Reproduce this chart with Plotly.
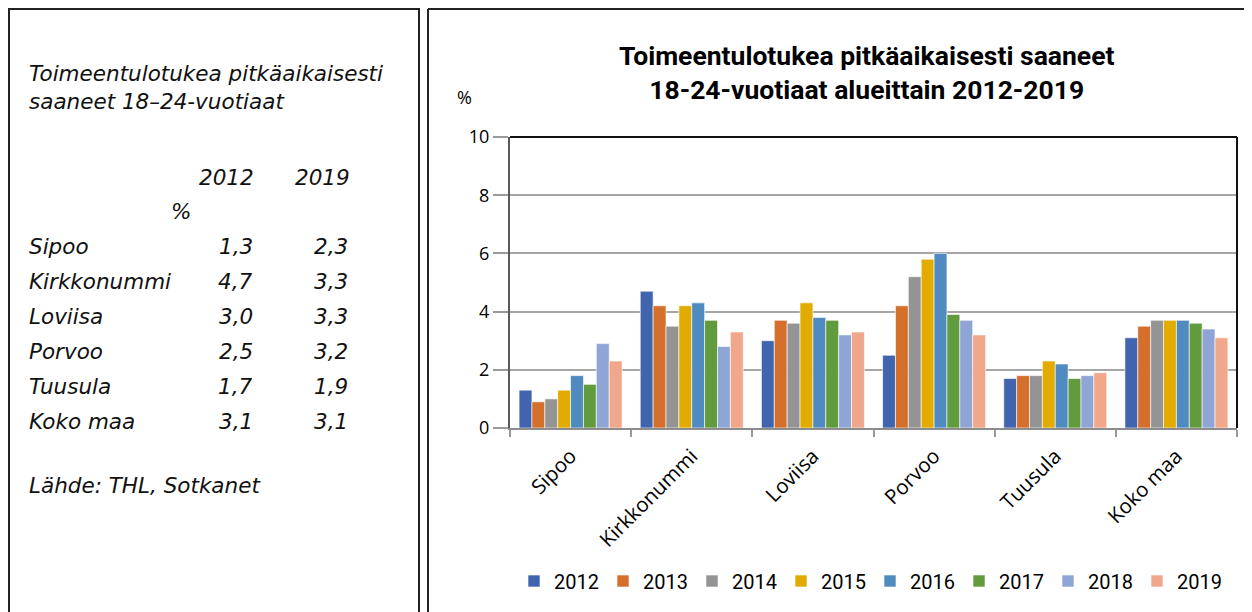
import plotly.graph_objects as go

# ---- data ----
categories = ["Sipoo", "Kirkkonummi", "Loviisa", "Porvoo", "Tuusula", "Koko maa"]
years = ["2012", "2013", "2014", "2015", "2016", "2017", "2018", "2019"]
v2012 = [1.3, 4.7, 3.0, 2.5, 1.7, 3.1]
v2013 = [0.9, 4.2, 3.7, 4.2, 1.8, 3.5]
v2014 = [1.0, 3.5, 3.6, 5.2, 1.8, 3.7]
v2015 = [1.3, 4.2, 4.3, 5.8, 2.3, 3.7]
v2016 = [1.8, 4.3, 3.8, 6.0, 2.2, 3.7]
v2017 = [1.5, 3.7, 3.7, 3.9, 1.7, 3.6]
v2018 = [2.9, 2.8, 3.2, 3.7, 1.8, 3.4]
v2019 = [2.3, 3.3, 3.3, 3.2, 1.9, 3.1]
series = [v2012, v2013, v2014, v2015, v2016, v2017, v2018, v2019]
colors = ["#4065AE", "#D46F2C", "#949494", "#E2AB00", "#4F8BC0", "#629A3E", "#8FA5D5", "#F0A78A"]
y_ticks = [0, 2, 4, 6, 8, 10]

table_title = "Toimeentulotukea pitkäaikaisesti<br>saaneet 18–24-vuotiaat"
table_rows = ["Sipoo", "Kirkkonummi", "Loviisa", "Porvoo", "Tuusula", "Koko maa"]
table_2012 = ["1,3", "4,7", "3,0", "2,5", "1,7", "3,1"]
table_2019 = ["2,3", "3,3", "3,3", "3,2", "1,9", "3,1"]
source = "Lähde: THL, Sotkanet"

FONT = "Open Sans, sans-serif"
FONT_T = "DejaVu Sans, sans-serif"
FONT_C = "Roboto, sans-serif"
OFF = 8  # page body margin
W, H = 1252 - OFF, 612 - OFF
L, R, T, B = 510, 1237, 137, 428   # plot area in page pixels

def px(x):
    return (x - L) / (R - L)

def py(y):
    return (B - y) / (B - T)

fig = go.Figure()
for name, vals, col in zip(years, series, colors):
    fig.add_trace(go.Bar(x=categories, y=vals, name=name,
                         marker=dict(color=col, line=dict(color="rgba(255,255,255,0.6)", width=1))))

TXT = dict(family=FONT_T, size=21.5, color="#111")
ann = []
ann.append(dict(x=px(27), y=py(88), xref="paper", yref="paper", xanchor="left", yanchor="middle",
                text="<i>" + table_title + "</i>", showarrow=False, align="left", font=TXT))
ann.append(dict(x=px(256), y=py(177), xref="paper", yref="paper", xanchor="right", yanchor="middle",
                text="<i>2012</i>", showarrow=False, font=TXT))
ann.append(dict(x=px(352), y=py(177), xref="paper", yref="paper", xanchor="right", yanchor="middle",
                text="<i>2019</i>", showarrow=False, font=TXT))
ann.append(dict(x=px(193), y=py(211), xref="paper", yref="paper", xanchor="right", yanchor="middle",
                text="<i>%</i>", showarrow=False, font=TXT))
for i, (nm, a, b) in enumerate(zip(table_rows, table_2012, table_2019)):
    yy = 246 + i * 35
    ann.append(dict(x=px(27), y=py(yy), xref="paper", yref="paper", xanchor="left", yanchor="middle",
                    text="<i>" + nm + "</i>", showarrow=False, font=TXT))
    ann.append(dict(x=px(255), y=py(yy), xref="paper", yref="paper", xanchor="right", yanchor="middle",
                    text="<i>" + a + "</i>", showarrow=False, font=TXT))
    ann.append(dict(x=px(350), y=py(yy), xref="paper", yref="paper", xanchor="right", yanchor="middle",
                    text="<i>" + b + "</i>", showarrow=False, font=TXT))
ann.append(dict(x=px(27), y=py(485), xref="paper", yref="paper", xanchor="left", yanchor="middle",
                text="<i>" + source + "</i>", showarrow=False, font=TXT))
# chart title and unit
ann.append(dict(x=px(866), y=py(73), xref="paper", yref="paper", xanchor="center", yanchor="middle",
                text="<b>Toimeentulotukea pitkäaikaisesti saaneet<br>18-24-vuotiaat alueittain 2012-2019</b>",
                showarrow=False, font=dict(family=FONT_C, size=26.5, color="#000")))
ann.append(dict(x=px(464), y=py(97), xref="paper", yref="paper", xanchor="center", yanchor="middle",
                text="%", showarrow=False, font=dict(family=FONT, size=18, color="#000")))

shapes = [
    dict(type="rect", xref="paper", yref="paper", x0=px(9), x1=px(419), y0=py(9), y1=py(640),
         line=dict(color="#222", width=2), layer="below"),
    dict(type="line", xref="paper", yref="paper", x0=px(428), x1=px(428), y0=py(9), y1=py(640),
         line=dict(color="#222", width=2), layer="below"),
    dict(type="line", xref="paper", yref="paper", x0=px(428), x1=px(1250), y0=py(9), y1=py(9),
         line=dict(color="#222", width=2), layer="below"),
    dict(type="line", xref="paper", yref="paper", x0=px(1250), x1=px(1250), y0=py(9), y1=py(640),
         line=dict(color="#777", width=2), layer="below"),
    dict(type="line", xref="paper", yref="paper", x0=0, x1=1, y0=1, y1=1, line=dict(color="#111", width=2)),
    dict(type="line", xref="paper", yref="paper", x0=1, x1=1, y0=0, y1=1, line=dict(color="#111", width=2)),
]

fig.update_layout(
    width=W, height=H,
    margin=dict(l=L - OFF, r=1252 - R, t=T - OFF, b=612 - B, autoexpand=False),
    paper_bgcolor="white", plot_bgcolor="white",
    barmode="group", bargap=0.15, bargroupgap=0,
    font=dict(family=FONT, size=18, color="#000"),
    showlegend=True,
    legend=dict(orientation="h", x=px(870), xanchor="center", y=py(581), yanchor="middle",
                font=dict(family=FONT_C, size=20, color="#000"), itemwidth=30, tracegroupgap=0,
                entrywidth=44, entrywidthmode="pixels"),
    annotations=ann, shapes=shapes,
    xaxis=dict(tickangle=-45, ticks="outside", tickson="boundaries", ticklen=7, tickcolor="#999",
               tickwidth=1.5, showline=True, linecolor="#8c8c8c", linewidth=2,
               ticklabelstandoff=6,
               tickfont=dict(family=FONT, size=20.5, color="#000")),
    yaxis=dict(range=[0, 10], tickvals=y_ticks, ticks="outside", ticklen=15, tickcolor="#999",
               tickwidth=1.5, showline=True, linecolor="#595959", linewidth=2,
               gridcolor="#A6A6A6", gridwidth=1.5,
               zeroline=False, tickfont=dict(family=FONT, size=18, color="#000")),
)

fig.write_html("out.html")
